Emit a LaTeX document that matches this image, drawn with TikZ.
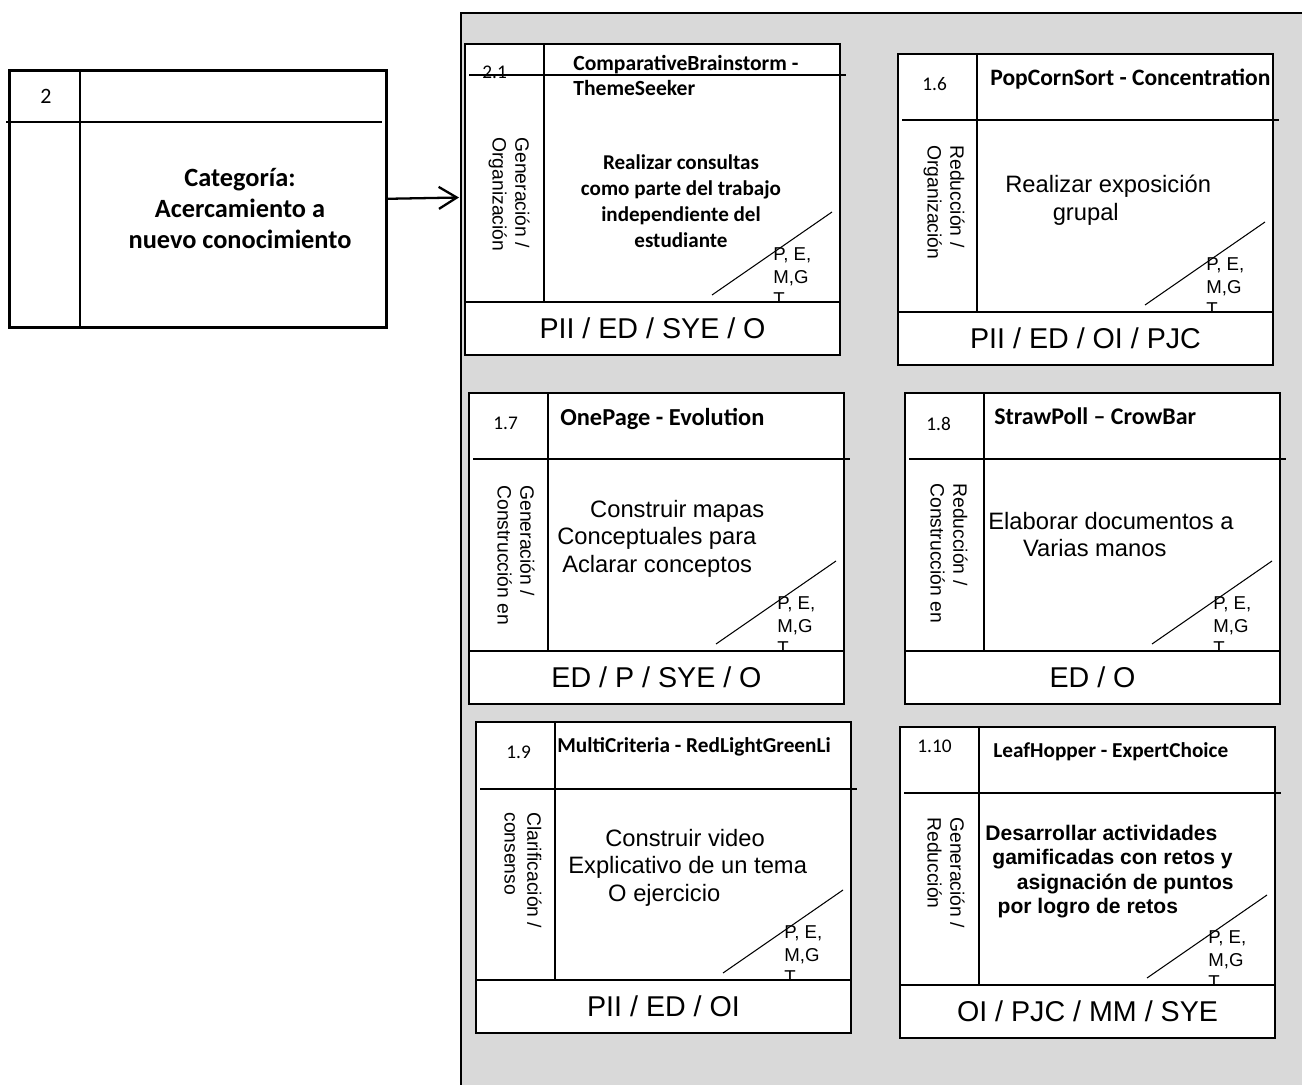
\documentclass[tikz,border=0pt]{standalone}
\usepackage{fontspec}
\setmainfont{Liberation Sans}
\newfontfamily\calibri{Carlito}
\usepackage{xcolor}
\usetikzlibrary{arrows.meta}
\definecolor{panel}{HTML}{D9D9D9}

% ficha: #1 nombre, #2 x, #3 y, #4 alto cabecera, #5 pie, #6 contenido
\newcommand{\ficha}[6]{%
  \begin{scope}[shift={(#2,#3)}]
    \draw[marco, fill=white] (0,0) rectangle (375,258);
    \draw[linea] (79,0) -- (79,258);
    \draw[cabecera] (4,#4) -- (381,#4);
    \draw[diag] (247,251) -- (367,168);
    #6
    \node[pe] (#1pe) at (308,203) {P, E,\\M,G\\T};
    \node[pie] (#1pie) at (187.5,284.5) {#5};
  \end{scope}}
\newcommand{\tam}[1]{\calibri\bfseries\fontsize{#1}{14.2}\selectfont}

\begin{document}
\begin{tikzpicture}[
  x=0.02cm, y=-0.02cm,
  marco/.style={draw, line width=1.2pt},
  linea/.style={line width=0.8pt},
  cabecera/.style={line width=0.9pt},
  diag/.style={line width=0.6pt},
  pie/.style={draw, fill=white, line width=1.2pt, minimum width=7.5cm,
              minimum height=1.06cm, inner sep=0pt, font=\fontsize{16.3}{19}\selectfont},
  pe/.style={anchor=north west, inner sep=0pt, align=left, font=\fontsize{10.6}{13}\selectfont},
  num/.style={anchor=north west, inner sep=0pt, font=\calibri\fontsize{11}{13}\selectfont},
  titulo/.style={anchor=north west, inner sep=0pt, align=left},
  lado/.style={rotate=-90, anchor=north west, inner sep=0pt, align=left,
               font=\fontsize{11}{13}\selectfont},
  cuerpo/.style={anchor=north west, inner sep=0pt, align=left,
                 font=\fontsize{13.5}{15.6}\selectfont},
  flecha/.style={-{Straight Barb[length=3.6mm, width=4.4mm]}, line width=1.3pt}
]
  \useasboundingbox (0,0) rectangle (1302,1085);
  % panel gris
  \fill[panel] (461,13) rectangle (1302,1085);
  \draw[line width=1.5pt] (461,1085) -- (461,13) -- (1302,13);
  \coordinate (panelW) at (459,197.5);
  % categoria
  \node[draw, line width=1.5pt, anchor=north west, inner sep=0pt,
        minimum width=7.54cm, minimum height=5.14cm] (cat) at (8,69) {};
  \draw[line width=1.5pt] (80,69) -- (80,326);
  \draw[line width=1.5pt] (6,122) -- (382,122);
  \node[font=\calibri\fontsize{12.5}{14}\selectfont] (catnum) at (46,96) {2};
  \node[anchor=north, align=center, inner sep=0pt,
        font=\calibri\bfseries\fontsize{15}{17.6}\selectfont] (cattxt) at (240,168)
        {Categoría:\\Acercamiento a\\nuevo conocimiento};
  \draw[flecha] (cat.east) -- (panelW);
  % fichas
  \ficha{c1}{465}{44}{31}{PII / ED / SYE / O}{%
    \node[num] (c1num) at (17,22) {2.1};
    \node[titulo, font=\tam{12.3}] (c1tit) at (108,11) {ComparativeBrainstorm -\\ThemeSeeker};
    \node[lado] (c1lado) at (65,93) {Generación /\\Organización};
    \node[anchor=north, align=center, inner sep=0pt,
          font=\calibri\bfseries\fontsize{12}{14.9}\selectfont] (c1txt) at (216,110)
          {Realizar consultas\\como parte del trabajo\\independiente del\\estudiante};}
  \ficha{c2}{898}{54}{66}{PII / ED / OI / PJC}{%
    \node[num] (c2num) at (24,23) {1.6};
    \node[titulo, font=\tam{13.4}] (c2tit) at (92,15) {PopCornSort - Concentration};
    \node[lado] (c2lado) at (67,91) {Reducción /\\Organización};
    \node[cuerpo] (c2txt) at (107,121) {Realizar exposición\\\hspace*{27pt}grupal};}
  \ficha{c3}{469}{393}{66}{ED / P / SYE / O}{%
    \node[num] (c3num) at (24,24) {1.7};
    \node[titulo, font=\tam{13.9}] (c3tit) at (91,15) {OnePage - Evolution};
    \node[lado] (c3lado) at (66,92) {Generación /\\Construcción en};
    \node[cuerpo] (c3txt) at (88,107)
      {\hspace*{18.7pt}Construir mapas\\Conceptuales para\\\hspace*{2.8pt}Aclarar conceptos};}
  \ficha{c4}{905}{393}{66}{ED / O}{%
    \node[num] (c4num) at (21,24) {1.8};
    \node[titulo, font=\tam{13.6}] (c4tit) at (89,14) {StrawPoll – CrowBar};
    \node[lado] (c4lado) at (63,90) {Reducción /\\Construcción en};
    \node[cuerpo] (c4txt) at (83,119) {Elaborar documentos a\\\hspace*{19.8pt}Varias manos};}
  \ficha{c5}{476}{722}{67}{PII / ED / OI}{%
    \node[num] (c5num) at (30,24) {1.9};
    \node[titulo, font=\tam{12.1}] (c5tit) at (81,15) {MultiCriteria - RedLightGreenLi};
    \node[lado] (c5lado) at (66,90) {Clarificación /\\consenso};
    \node[cuerpo] (c5txt) at (92,107)
      {\hspace*{21pt}Construir video\\Explicativo de un tema\\\hspace*{22.7pt}O ejercicio};}
  \ficha{c6}{900}{727}{66}{OI / PJC / MM / SYE}{%
    \node[num] (c6num) at (17,13) {1.10};
    \node[titulo, font=\tam{12.1}] (c6tit) at (93,15) {LeafHopper - ExpertChoice};
    \node[lado] (c6lado) at (65,90) {Generación /\\Reducción};
    \node[cuerpo, font=\bfseries\fontsize{12}{13.8}\selectfont] (c6txt) at (85,98)
      {Desarrollar actividades\\\hspace*{4pt}gamificadas con retos y\\\hspace*{18pt}asignación de puntos\\\hspace*{7pt}por logro de retos};}
\end{tikzpicture}
\end{document}
